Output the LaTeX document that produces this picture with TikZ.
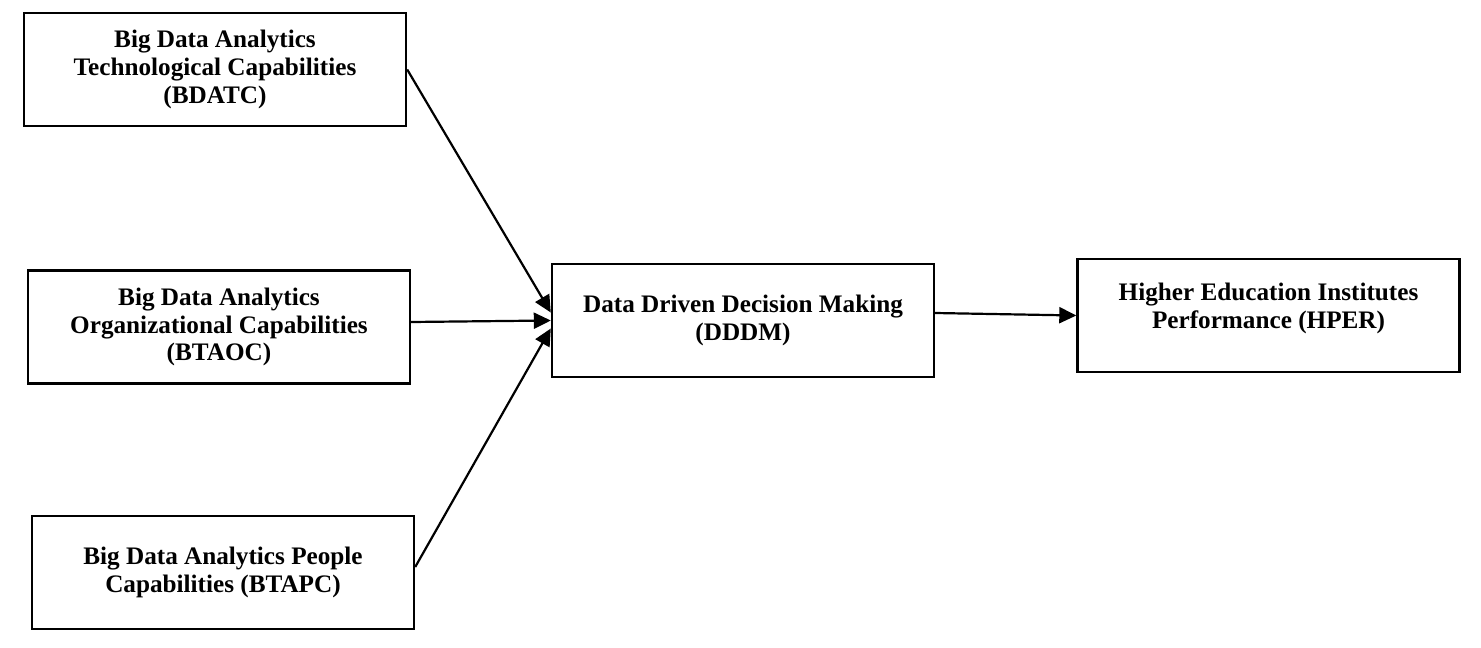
\documentclass[tikz,border=0pt]{standalone}
\usepackage{fontspec}
\setmainfont{Liberation Serif}
\usetikzlibrary{arrows.meta}
\begin{document}
\begin{tikzpicture}
	[x=0.5pt, y=-0.5pt, line width=1.2pt,
	blk/.style={draw, align=center, minimum width=191pt, minimum height=56.5pt, inner sep=0pt,
		font=\fontsize{12.6}{13.9}\selectfont\bfseries},
	arr/.style={-{Triangle[length=8.5pt, width=8pt]}, line width=1.1pt}]
	\useasboundingbox (0,0) rectangle (1481,647);
	\node[blk] (bdatc) at (215,69.5) {Big Data Analytics\\Technological Capabilities\\(BDATC)};
	\node[blk] (btaoc) at (219,327) {Big Data Analytics\\Organizational Capabilities\\(BTAOC)};
	\node[blk] (btapc) at (223,572.5) {Big Data Analytics People\\Capabilities (BTAPC)};
	\node[blk] (dddm) at (743,320.5) {Data Driven Decision Making\\(DDDM)};
	\node[blk, text depth=10pt] (hper) at (1268.5,315.5) {Higher Education Institutes\\Performance (HPER)};
	\draw (bdatc.east) edge[arr] ([yshift=4pt]dddm.west);
	\draw ([yshift=2.5pt]btaoc.east) edge[arr] (dddm.west);
	\draw ([yshift=2.75pt]btapc.east) edge[arr] ([yshift=-4pt]dddm.west);
	\draw ([yshift=3.75pt]dddm.east) edge[arr] (hper.west);
\end{tikzpicture}
\end{document}
